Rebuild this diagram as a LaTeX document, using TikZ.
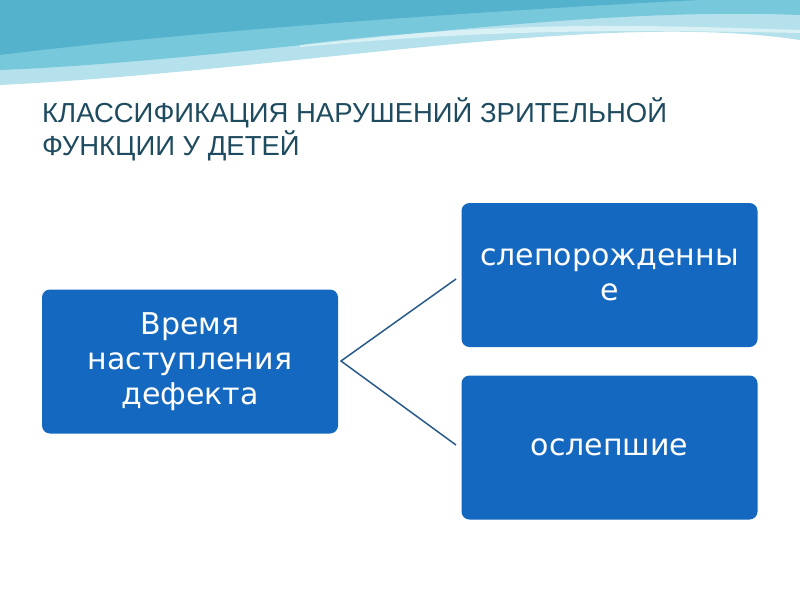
\documentclass[tikz,border=0pt]{standalone}
\usepackage{fontspec}
\setmainfont{Liberation Sans}
\newfontfamily\boxfont{DejaVu Sans}
\definecolor{boxblue}{RGB}{21,104,192}
\definecolor{titlecol}{RGB}{30,75,95}
\definecolor{linecol}{RGB}{40,90,140}
\definecolor{wave1}{RGB}{120,200,220}
\definecolor{wave2}{RGB}{180,225,235}
\definecolor{wave3}{RGB}{70,170,200}
\begin{document}
\begin{tikzpicture}[x=1pt,y=-1pt,
  blbox/.style={fill=boxblue,rounded corners=8pt,inner sep=0pt,text=white,align=center,
    font=\boxfont\fontsize{30}{35}\selectfont,minimum width=296pt,minimum height=144pt},
  conn/.style={draw=linecol,line width=1.5pt}]
\useasboundingbox (0,0) rectangle (800,600);
\fill[white] (0,0) rectangle (800,600);
% top waves
\fill[wave2] (0,0) -- (800,0) -- (800,40) .. controls (600,10) and (300,70) .. (0,85) -- cycle;
\fill[wave1] (0,0) -- (800,0) -- (800,15) .. controls (550,5) and (250,60) .. (0,70) -- cycle;
\fill[wave3,opacity=0.7] (0,0) -- (700,0) .. controls (500,10) and (200,30) .. (0,55) -- cycle;
\fill[white,opacity=0.5] (300,45) .. controls (500,20) and (650,25) .. (800,30) -- (800,33) .. controls (650,30) and (500,28) .. (300,47) -- cycle;
% title
\node[anchor=base west,text=titlecol,font=\fontsize{27.5}{30}\selectfont,inner sep=0pt] (t1) at (42,122) {КЛАССИФИКАЦИЯ НАРУШЕНИЙ ЗРИТЕЛЬНОЙ};
\node[anchor=base west,text=titlecol,font=\fontsize{27.5}{30}\selectfont,inner sep=0pt] (t2) at (42,155) {ФУНКЦИИ У ДЕТЕЙ};
% boxes
\node[blbox] (a) at (190,361.5) {Время\\наступления\\дефекта};
\node[blbox] (b) at (609.5,275) {слепорожденны\\е};
\node[blbox] (c) at (609.5,447.5) {ослепшие};
\coordinate (j) at (341,361);
\coordinate (bj) at (456,279);
\coordinate (cj) at (456,445);
\draw[conn] (bj) -- (j) -- (cj);
\end{tikzpicture}
\end{document}
